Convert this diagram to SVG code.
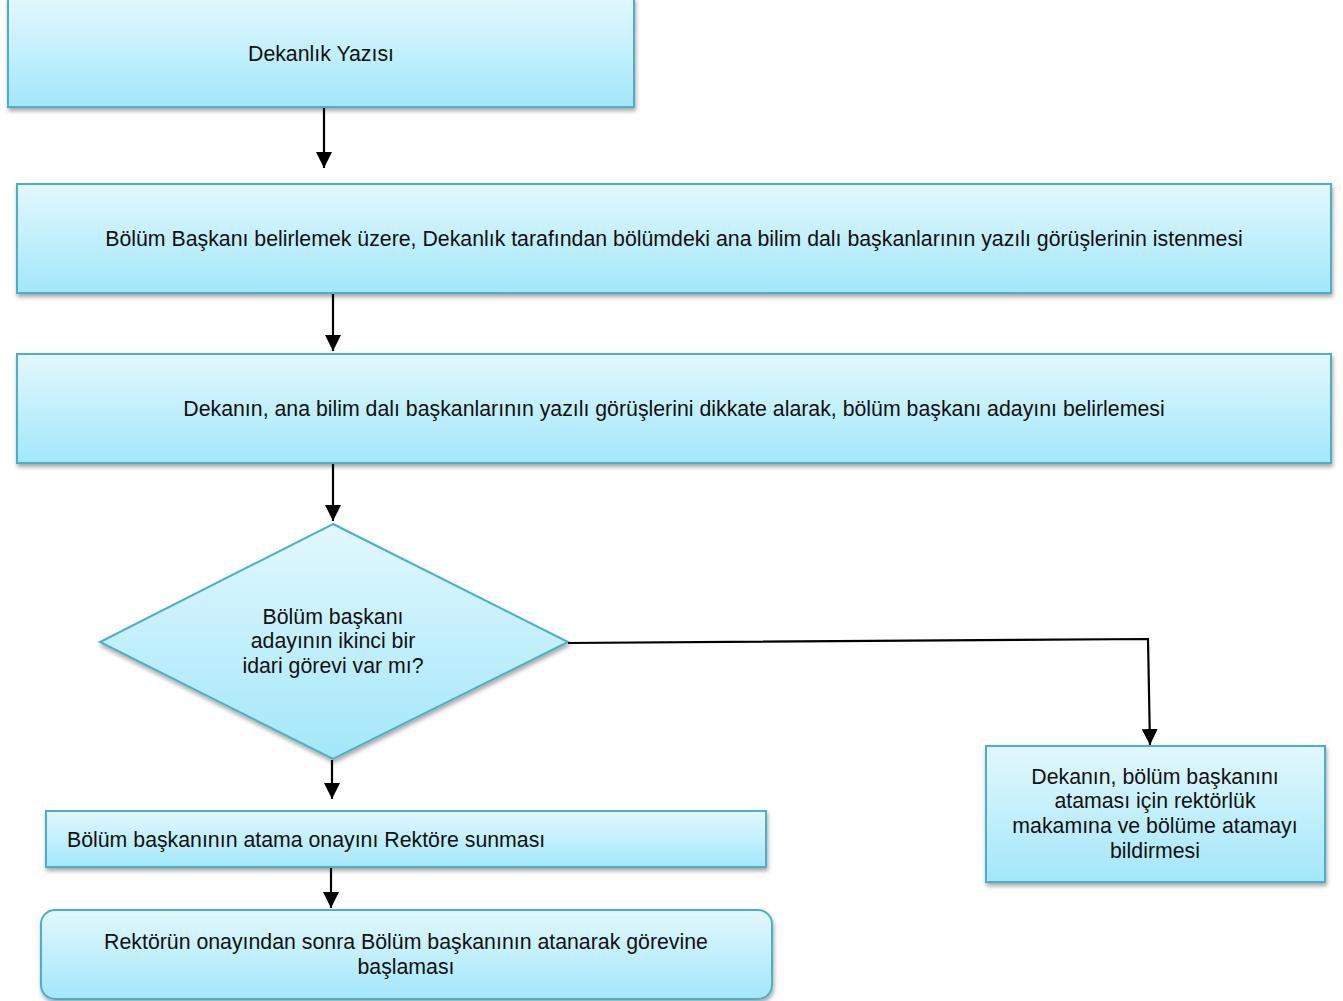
<svg xmlns="http://www.w3.org/2000/svg" width="1343" height="1001" viewBox="0 0 1343 1001">
<defs>
<linearGradient id="g" x1="0" y1="0" x2="0" y2="1">
<stop offset="0" stop-color="#e2f8fd"/>
<stop offset="1" stop-color="#a3e7fb"/>
</linearGradient>
<filter id="sh" x="-5%" y="-10%" width="110%" height="130%">
<feDropShadow dx="1" dy="3" stdDeviation="2" flood-color="#000" flood-opacity="0.35"/>
</filter>
<marker id="ah" markerWidth="16" markerHeight="16" refX="16" refY="8" orient="auto" markerUnits="userSpaceOnUse" viewBox="0 0 16 16">
<path d="M0,0 L16,8 L0,16 Z" fill="#000"/>
</marker>
<style>
.n{fill:url(#g);stroke:#4eaecb;stroke-width:2;filter:url(#sh)}
.t{font-family:"Liberation Sans",Arial,sans-serif;font-size:21.3px;fill:#111;text-anchor:middle}
.c{fill:none;stroke:#000;stroke-width:2.2}
</style>
</defs>
<rect width="1343" height="1001" fill="#fff"/>
<g id="n1"><rect class="n" x="8" y="-2" width="626" height="109"/><text class="t" x="321" y="61">Dekanlık Yazısı</text></g>
<g id="n2"><rect class="n" x="17" y="184" width="1314" height="109"/><text class="t" x="674" y="246">Bölüm Başkanı belirlemek üzere, Dekanlık tarafından bölümdeki ana bilim dalı başkanlarının yazılı görüşlerinin istenmesi</text></g>
<g id="n3"><rect class="n" x="17" y="354" width="1314" height="109"/><text class="t" x="674" y="416">Dekanın, ana bilim dalı başkanlarının yazılı görüşlerini dikkate alarak, bölüm başkanı adayını belirlemesi</text></g>
<g id="n4"><polygon class="n" points="333,524 568,642 333,759 100,642"/>
<text class="t" x="333" y="624">Bölüm başkanı</text>
<text class="t" x="333" y="648">adayının ikinci bir</text>
<text class="t" x="333" y="673">idari görevi var mı?</text></g>
<g id="n5"><rect class="n" x="46" y="811" width="720" height="56"/><text class="t" x="67" y="847" style="text-anchor:start">Bölüm başkanının atama onayını Rektöre sunması</text></g>
<g id="n6"><rect class="n" x="41" y="910" width="731" height="89" rx="14"/>
<text class="t" x="406" y="949">Rektörün onayından sonra Bölüm başkanının atanarak görevine</text>
<text class="t" x="406" y="974">başlaması</text></g>
<g id="n7"><rect class="n" x="986" y="746" width="339" height="136"/>
<text class="t" x="1155" y="784">Dekanın, bölüm başkanını</text>
<text class="t" x="1155" y="808">ataması için rektörlük</text>
<text class="t" x="1155" y="833">makamına ve bölüme atamayı</text>
<text class="t" x="1155" y="858">bildirmesi</text></g>
<g id="connectors">
<path class="c" d="M324,108 V168" marker-end="url(#ah)"/>
<path class="c" d="M333,294 V351" marker-end="url(#ah)"/>
<path class="c" d="M333,464 V521" marker-end="url(#ah)"/>
<path class="c" d="M332,760 V799" marker-end="url(#ah)"/>
<path class="c" d="M331,868 V908" marker-end="url(#ah)"/>
<path class="c" d="M568,643 L1148,639 L1150,745" marker-end="url(#ah)"/>
</g>
</svg>
